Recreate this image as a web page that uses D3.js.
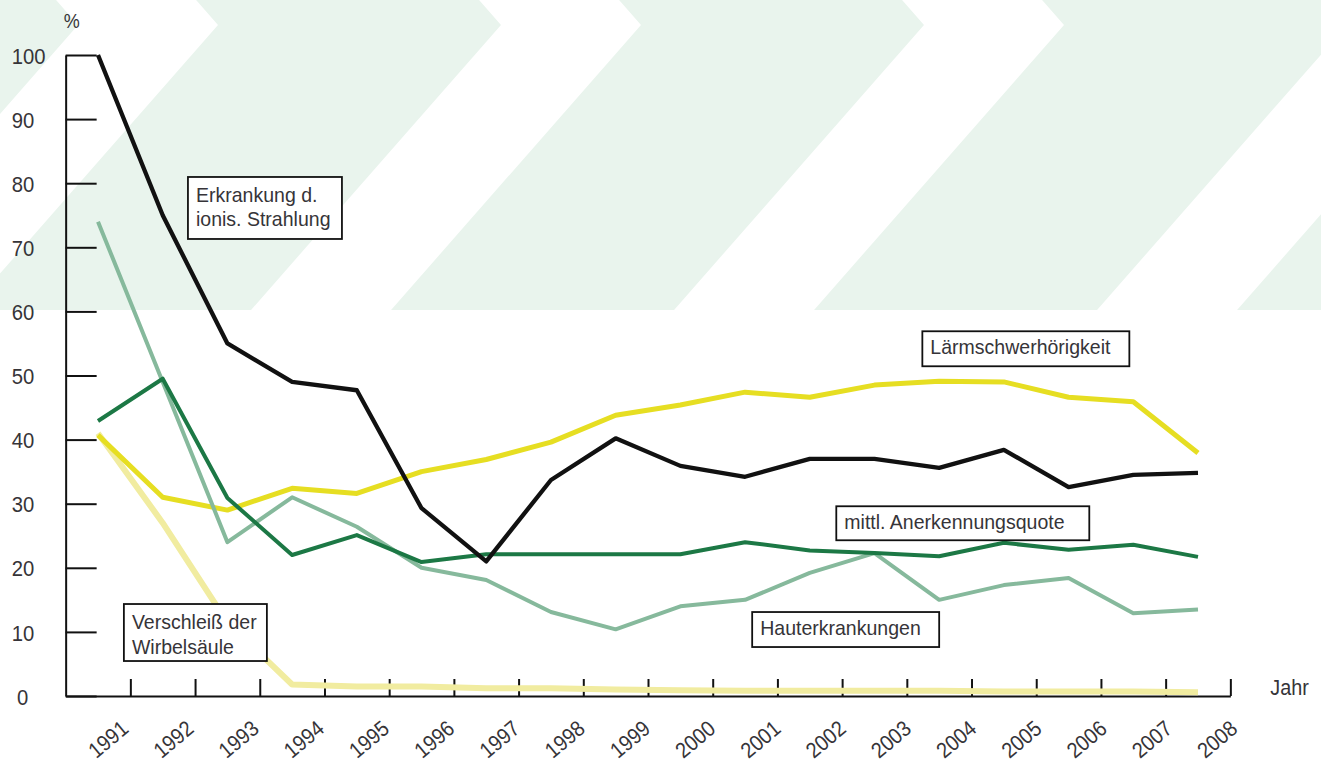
<!DOCTYPE html>
<html>
<head>
<meta charset="utf-8">
<script src="https://cdn.jsdelivr.net/npm/d3@7"></script>
<style>
  html, body { margin: 0; padding: 0; background: #fff; }
  svg { display: block; }
  text { font-family: "Liberation Sans", Arial, sans-serif; fill: #363438; }
</style>
</head>
<body>
<svg id="chart" width="1321" height="771"></svg>
<script>
// ---- data ----
const years = [1991, 1992, 1993, 1994, 1995, 1996, 1997, 1998, 1999, 2000, 2001, 2002, 2003, 2004, 2005, 2006, 2007, 2008];
const yTicks = [0, 10, 20, 30, 40, 50, 60, 70, 80, 90, 100];
const wirbelsaeule = [41, 27, 11.5, 1.8, 1.5, 1.5, 1.2, 1.2, 1.0, 0.9, 0.8, 0.8, 0.8, 0.8, 0.7, 0.7, 0.7, 0.6];
const laerm = [40.7, 31, 29, 32.4, 31.6, 35, 36.9, 39.6, 43.8, 45.4, 47.4, 46.6, 48.5, 49.1, 49, 46.6, 45.9, 37.9];
const haut = [74, 49, 24, 31, 26.4, 20, 18.1, 13.1, 10.4, 14, 15, 19.2, 22.3, 15, 17.3, 18.4, 12.9, 13.5];
const quote = [42.9, 49.5, 30.9, 22, 25.1, 20.9, 22.1, 22.1, 22.1, 22.1, 24, 22.7, 22.3, 21.8, 23.9, 22.8, 23.6, 21.7];
const strahlung = [100, 75, 55, 49, 47.7, 29.3, 21, 33.7, 40.2, 35.9, 34.2, 37, 37, 35.6, 38.4, 32.6, 34.5, 34.8];
const seriesNames = ["Verschleiß der Wirbelsäule", "Lärmschwerhörigkeit", "Hauterkrankungen", "mittl. Anerkennungsquote", "Erkrankung d. ionis. Strahlung"];
const labelLines = [["Verschleiß der", "Wirbelsäule"], ["Lärmschwerhörigkeit"], ["Hauterkrankungen"], ["mittl. Anerkennungsquote"], ["Erkrankung d.", "ionis. Strahlung"]];

// ---- layout / style ----
const W = 1321, H = 771;
const AX_SCALE = 0.9;   // condensed look for axis text
const BOX_SCALE = 0.93; // condensed look for label text
const svg = d3.select("#chart");
const x = d3.scaleLinear().domain([1990.5, 2008.5]).range([65.65, 1230.35]);
const y = d3.scaleLinear().domain([0, 100]).range([696, 55]);

const styles = [
  { color: "#f1eca0", width: 6 },
  { color: "#e6de22", width: 5 },
  { color: "#86b99c", width: 4 },
  { color: "#1c7845", width: 4 },
  { color: "#111111", width: 4.3 }
];
// label box anchors (top-left in data coordinates) and box sizes in px
const labelPos = [
  { year: 1991.40, value: 14.35, w: 143, h: 57 },
  { year: 2003.74, value: 56.9, w: 207, h: 35 },
  { year: 2001.11, value: 13.1, w: 187, h: 35 },
  { year: 2002.41, value: 29.6, w: 253, h: 34 },
  { year: 1992.39, value: 80.97, w: 154, h: 62 }
];

// ---- background chevrons ----
const bg = svg.append("g");
const greenBottom = 310, apexY = 25, bandW = 140, slope = 0.877, period = 423, firstApex = 218;
bg.append("rect").attr("x", 0).attr("y", 0).attr("width", W).attr("height", greenBottom).attr("fill", "#e9f4ed");
for (let k = 0; k < 4; k++) {
  const X = firstApex + k * period;
  const pts = [
    [X - apexY * slope, 0], [X, apexY], [X - (greenBottom - apexY) * slope, greenBottom],
    [X - bandW - (greenBottom - apexY) * slope, greenBottom], [X - bandW, apexY], [X - bandW - apexY * slope, 0]
  ];
  bg.append("polygon").attr("points", pts.map(p => p.join(",")).join(" ")).attr("fill", "#ffffff");
}

// ---- axes ----
const yAxis = d3.axisLeft(y).tickValues(yTicks).tickSize(-31).tickSizeOuter(0).tickFormat(d3.format("d"));
const gy = svg.append("g").attr("transform", `translate(${x(1990.5)},0)`).call(yAxis);
gy.select(".domain").attr("stroke", "#111").attr("stroke-width", 2);
gy.selectAll(".tick line").attr("stroke", "#111").attr("stroke-width", 2);
gy.selectAll(".tick text")
  .attr("x", 0).attr("dy", "0.36em")
  .attr("transform", d => `translate(${d === 0 ? -43 : -54},0) scale(${AX_SCALE},1)`)
  .style("text-anchor", d => d === 0 ? "middle" : "start")
  .style("font-size", "22.5px")
  .attr("fill", "#363438");

const xAxis = d3.axisBottom(x).tickValues(years.map(v => v + 0.5)).tickSize(-17).tickSizeOuter(0)
  .tickFormat(d => String(d - 0.5));
const gx = svg.append("g").attr("transform", `translate(0,${y(0)})`).call(xAxis);
gx.select(".domain").attr("stroke", "#111").attr("stroke-width", 2);
gx.selectAll(".tick line").attr("stroke", "#111").attr("stroke-width", 2);
gx.selectAll(".tick text")
  .attr("x", 0).attr("y", 0).attr("dy", 0)
  .attr("transform", (d, i) => `translate(${-1 + 0.53 * i},35) rotate(-40) scale(${AX_SCALE},1)`)
  .style("text-anchor", "end")
  .style("font-size", "22px")
  .attr("fill", "#363438");
gx.selectAll("path.domain, .tick line").attr("fill", "none");

svg.append("text").attr("transform", `translate(${x(1990.5) + 6},${y(100) - 27}) scale(${AX_SCALE},1)`).text("%")
  .style("text-anchor", "middle").style("font-size", "20px");
svg.append("text").attr("transform", `translate(${x(2008.5) + 40},${y(0) - 1}) scale(${AX_SCALE},1)`).text("Jahr")
  .style("font-size", "22px");

// ---- lines ----
const allSeries = [wirbelsaeule, laerm, haut, quote, strahlung];
const line = d3.line().x((d, i) => x(years[i])).y(d => y(d));
svg.append("g").selectAll("path").data(allSeries).join("path")
  .attr("d", d => line(d))
  .attr("fill", "none")
  .attr("stroke", (d, i) => styles[i].color)
  .attr("stroke-width", (d, i) => styles[i].width)
  .attr("stroke-linejoin", "round")
  .attr("stroke-linecap", "butt");

// ---- label boxes ----
const lg = svg.append("g");
labelLines.forEach((lines, i) => {
  const p = labelPos[i];
  const bx = x(p.year), by = y(p.value);
  const g = lg.append("g").attr("transform", `translate(${bx},${by})`);
  g.append("rect").attr("x", 0).attr("y", 0).attr("width", p.w).attr("height", p.h)
    .attr("fill", "#fff").attr("stroke", "#111").attr("stroke-width", 1.8);
  const first = lines.length === 1 ? 23 : 25;
  lines.forEach((t, j) => {
    g.append("text")
      .attr("transform", `translate(8,${first + j * 24.5}) scale(${BOX_SCALE},1)`)
      .text(t).style("font-size", "21px");
  });
});
</script>
</body>
</html>
